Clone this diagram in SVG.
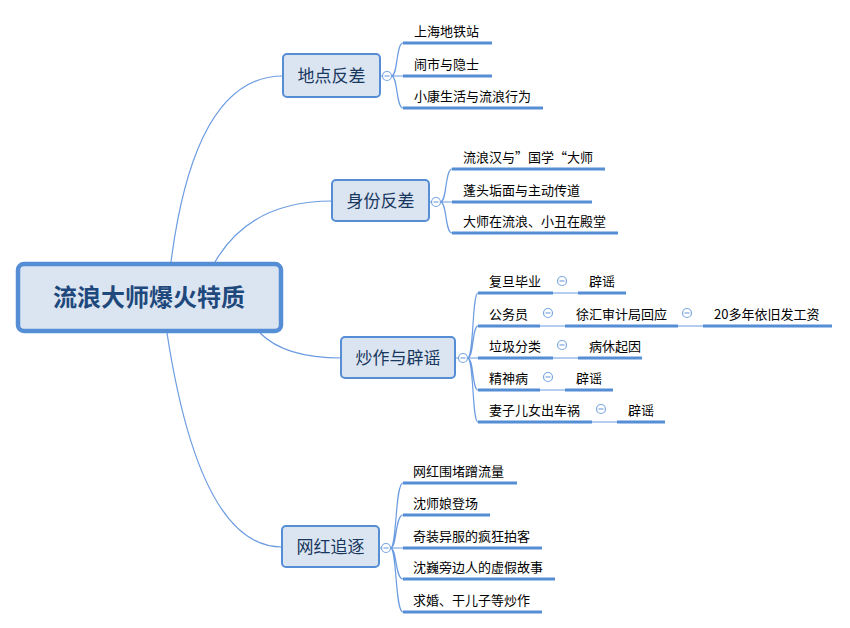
<svg xmlns="http://www.w3.org/2000/svg" width="850" height="628" viewBox="0 0 850 628">
<style>
text{font-family:"Noto Sans CJK SC","Noto Sans",sans-serif;}
.root{fill:#dbe5f1;stroke:#558ed5;stroke-width:4.5}
.rt{font-size:24px;font-weight:bold;fill:#1f497d;text-anchor:middle}
.br{fill:#dbe5f1;stroke:#558ed5;stroke-width:2}
.bt{font-size:17px;fill:#17375e;text-anchor:middle}
.lt{font-size:13px;fill:#000}
.ul{stroke:#558ed5;stroke-width:3;fill:none}
.cn{stroke:#6b9be0;stroke-width:1.2;fill:none}
.tn{stroke:#6b9be0;stroke-width:1;fill:none}
.cc{fill:#fff;stroke:#7aa6e0;stroke-width:1.2}
.cm{stroke:#7aa6e0;stroke-width:1.2}
</style>
<defs>
<g id="col"><circle class="cc" cx="0" cy="0" r="4.5"/><line class="cm" x1="-2.5" y1="0" x2="2.5" y2="0"/></g>
</defs>
<g id="connectors">
<path class="cn" d="M171,262 Q195,76 283,76"/>
<path class="cn" d="M215,262 Q250,201 332,201"/>
<path class="cn" d="M260,333 Q285,358 341,358"/>
<path class="cn" d="M167,333 Q200,547 282,547"/>
<path class="cn" d="M380,76 L382.5,76 M391.5,76 L403,76 M391.5,76 C398,76 396,43 403,43 M391.5,76 C398,76 396,108 403,108"/>
<path class="cn" d="M429,202 L431.5,202 M440.5,202 L452,202 M440.5,202 C447,202 445,169 452,169 M440.5,202 C447,202 445,233 452,233"/>
<path class="cn" d="M455,358 L458.5,358 M467.5,358 L478,358 M467.5,358 C474,358 472,293 478,293 M467.5,358 C474,358 472,326 478,326 M467.5,358 C474,358 472,390 478,390 M467.5,358 C474,358 472,422 478,422"/>
<path class="cn" d="M379,548 L381.5,548 M390.5,548 L403,548 M390.5,548 C397,548 395,483 403,483 M390.5,548 C397,548 395,515 403,515 M390.5,548 C397,548 395,579 403,579 M390.5,548 C397,548 395,612 403,612"/>
<path class="tn" d="M553,293 L578,293 M540,326 L565,326 M678,326 L703,326 M553,358 L578,358 M540,390 L565,390 M592,422 L617,422"/>
</g>
<g id="root"><rect class="root" x="18" y="264" width="263" height="67" rx="6"/><text class="rt" x="149" y="306">流浪大师爆火特质</text></g>
<g id="b1"><rect class="br" x="283" y="54" width="97" height="43" rx="4"/><text class="bt" x="331.5" y="82">地点反差</text><use href="#col" x="387" y="76"/></g>
<g id="b1l1"><line class="ul" x1="403" y1="43" x2="492" y2="43"/><text class="lt" x="414" y="35.5">上海地铁站</text></g>
<g id="b1l2"><line class="ul" x1="403" y1="76" x2="492" y2="76"/><text class="lt" x="414" y="68.5">闹市与隐士</text></g>
<g id="b1l3"><line class="ul" x1="403" y1="108" x2="543" y2="108"/><text class="lt" x="414" y="100.5">小康生活与流浪行为</text></g>
<g id="b2"><rect class="br" x="332" y="180" width="97" height="41" rx="4"/><text class="bt" x="380.5" y="206.5">身份反差</text><use href="#col" x="436" y="202"/></g>
<g id="b2l1"><line class="ul" x1="452" y1="169" x2="605" y2="169"/><text class="lt" x="463" y="161.5">流浪汉与”国学“大师</text></g>
<g id="b2l2"><line class="ul" x1="452" y1="202" x2="592" y2="202"/><text class="lt" x="463" y="194.5">蓬头垢面与主动传道</text></g>
<g id="b2l3"><line class="ul" x1="452" y1="233" x2="618" y2="233"/><text class="lt" x="463" y="225.5">大师在流浪、小丑在殿堂</text></g>
<g id="b3"><rect class="br" x="341" y="337" width="114" height="41" rx="4"/><text class="bt" x="398" y="363.5">炒作与辟谣</text><use href="#col" x="463" y="358"/></g>
<g id="b3l1"><line class="ul" x1="478" y1="293" x2="553" y2="293"/><text class="lt" x="489" y="285.5">复旦毕业</text><use href="#col" x="562" y="281"/></g>
<g id="b3l1a"><line class="ul" x1="578" y1="293" x2="626" y2="293"/><text class="lt" x="589" y="285.5">辟谣</text></g>
<g id="b3l2"><line class="ul" x1="478" y1="326" x2="540" y2="326"/><text class="lt" x="489" y="318.5">公务员</text><use href="#col" x="548" y="313"/></g>
<g id="b3l2a"><line class="ul" x1="565" y1="326" x2="678" y2="326"/><text class="lt" x="576" y="318.5">徐汇审计局回应</text><use href="#col" x="687" y="313"/></g>
<g id="b3l2b"><line class="ul" x1="703" y1="326" x2="832" y2="326"/><text class="lt" x="714" y="318.5">20多年依旧发工资</text></g>
<g id="b3l3"><line class="ul" x1="478" y1="358" x2="553" y2="358"/><text class="lt" x="489" y="350.5">垃圾分类</text><use href="#col" x="562" y="345"/></g>
<g id="b3l3a"><line class="ul" x1="578" y1="358" x2="642" y2="358"/><text class="lt" x="589" y="350.5">病休起因</text></g>
<g id="b3l4"><line class="ul" x1="478" y1="390" x2="540" y2="390"/><text class="lt" x="489" y="382.5">精神病</text><use href="#col" x="548" y="377"/></g>
<g id="b3l4a"><line class="ul" x1="565" y1="390" x2="613" y2="390"/><text class="lt" x="576" y="382.5">辟谣</text></g>
<g id="b3l5"><line class="ul" x1="478" y1="422" x2="592" y2="422"/><text class="lt" x="489" y="414.5">妻子儿女出车祸</text><use href="#col" x="601" y="409"/></g>
<g id="b3l5a"><line class="ul" x1="617" y1="422" x2="665" y2="422"/><text class="lt" x="628" y="414.5">辟谣</text></g>
<g id="b4"><rect class="br" x="282" y="526" width="97" height="41" rx="4"/><text class="bt" x="330.5" y="552.5">网红追逐</text><use href="#col" x="386" y="548"/></g>
<g id="b4l1"><line class="ul" x1="403" y1="483" x2="517" y2="483"/><text class="lt" x="413" y="475.5">网红围堵蹭流量</text></g>
<g id="b4l2"><line class="ul" x1="403" y1="515" x2="490" y2="515"/><text class="lt" x="413" y="507.5">沈师娘登场</text></g>
<g id="b4l3"><line class="ul" x1="403" y1="548" x2="542" y2="548"/><text class="lt" x="413" y="540.5">奇装异服的疯狂拍客</text></g>
<g id="b4l4"><line class="ul" x1="403" y1="579" x2="555" y2="579"/><text class="lt" x="413" y="571.5">沈巍旁边人的虚假故事</text></g>
<g id="b4l5"><line class="ul" x1="403" y1="612" x2="542" y2="612"/><text class="lt" x="413" y="604.5">求婚、干儿子等炒作</text></g>
</svg>
